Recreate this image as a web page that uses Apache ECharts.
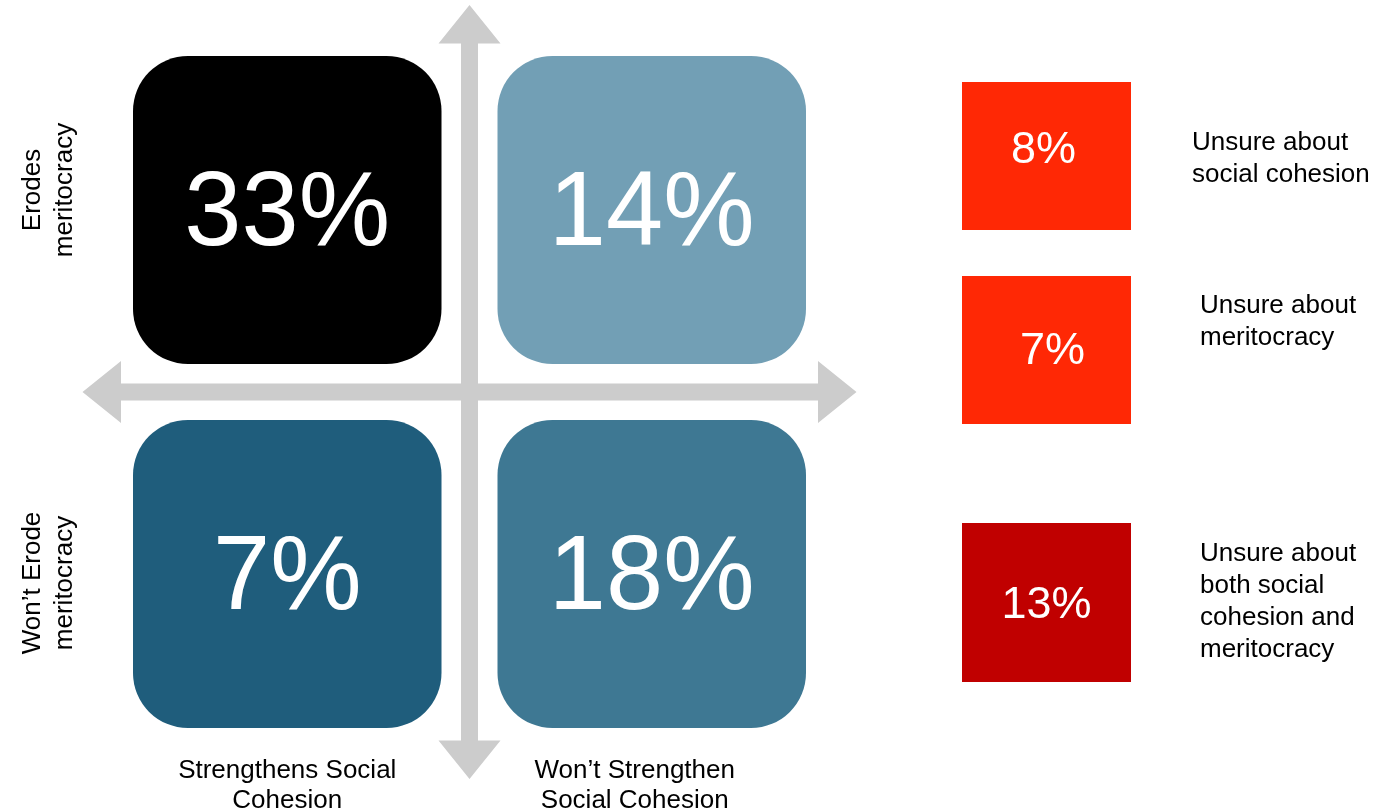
<!DOCTYPE html>
<html>
<head>
<meta charset="utf-8">
<title>Meritocracy vs social cohesion</title>
<script src="https://cdn.jsdelivr.net/npm/echarts@6/dist/echarts.min.js"></script>
<style>
  html, body { margin: 0; padding: 0; background: #fff; }
  #chart { width: 1388px; height: 811px; }
</style>
</head>
<body>
<div id="chart"></div>
<script>
// 数据
const cohesionCats = ['Strengthens Social\nCohesion', 'Won\u2019t Strengthen\nSocial Cohesion'];
const meritCats = ['Erodes\nmeritocracy', 'Won\u2019t Erode\nmeritocracy'];
// [cohesion index, meritocracy index, percent]
const quadValues = [[0, 0, 33], [1, 0, 14], [0, 1, 7], [1, 1, 18]];
const unsureLabels = ['Unsure about\nsocial cohesion', 'Unsure about\nmeritocracy', 'Unsure about\nboth social\ncohesion and\nmeritocracy'];
const unsureValues = [8, 7, 13];

// 样式
const FONT = '"Liberation Sans", Arial, sans-serif';
const quadColors = ['#000000', '#729fb5', '#1f5d7c', '#3e7893'];
const unsureColors = ['#ff2805', '#ff2805', '#c00000'];
const arrowColor = '#cccccc';
// side boxes are not evenly spaced in the original
const sideShift = [0, -6, 41];
const sideHeight = [148, 148, 159];
const sideTextShift = [[-3, -5], [6, 2], [0, 3]];
const sideLabelShift = [[230, 3], [238, -28], [238, -1]];

let myChart = echarts.init(document.getElementById('chart'));

let option = {
    animation: false,
    grid: [
        { left: 105, top: 28, width: 729, height: 728, outerBoundsMode: 'none' },
        { left: 962, top: 82, width: 169, height: 600, outerBoundsMode: 'none' }
    ],
    xAxis: [
        {
            type: 'category',
            gridIndex: 0,
            data: [
                cohesionCats[0],
                { value: cohesionCats[1], textStyle: { padding: [0, 34, 0, 0] } }
            ],
            axisLine: { show: false },
            axisTick: { show: false },
            splitLine: { show: false },
            axisLabel: {
                margin: 0,
                color: '#000',
                fontSize: 26,
                lineHeight: 30,
                fontFamily: FONT
            }
        },
        {
            type: 'value',
            gridIndex: 1,
            min: 0,
            max: 1,
            show: false
        }
    ],
    yAxis: [
        {
            type: 'category',
            gridIndex: 0,
            inverse: true,
            data: [
                { value: meritCats[0], textStyle: { padding: [0, 0, 0, 40] } },
                { value: meritCats[1], textStyle: { padding: [0, 18, 0, 0] } }
            ],
            axisLine: { show: false },
            axisTick: { show: false },
            splitLine: { show: false },
            axisLabel: {
                rotate: 90,
                margin: 24,
                color: '#000',
                fontSize: 26,
                lineHeight: 32,
                fontFamily: FONT
            }
        },
        {
            type: 'category',
            gridIndex: 1,
            inverse: true,
            data: unsureLabels,
            show: false
        }
    ],
    series: [
        {
            // 十字箭头
            type: 'custom',
            xAxisIndex: 0,
            yAxisIndex: 0,
            silent: true,
            data: [[0, 0]],
            renderItem: function (params, api) {
                const a = api.coord([0, 0]);
                const b = api.coord([1, 1]);
                const cx = (a[0] + b[0]) / 2;
                const cy = (a[1] + b[1]) / 2;
                const L = 387, h = 38.5, w = 31, s = 8.5;
                const vert = [
                    [cx - s, cy - L + h], [cx - w, cy - L + h], [cx, cy - L], [cx + w, cy - L + h], [cx + s, cy - L + h],
                    [cx + s, cy + L - h], [cx + w, cy + L - h], [cx, cy + L], [cx - w, cy + L - h], [cx - s, cy + L - h]
                ];
                const horz = [
                    [cx - L + h, cy - s], [cx - L + h, cy - w], [cx - L, cy], [cx - L + h, cy + w], [cx - L + h, cy + s],
                    [cx + L - h, cy + s], [cx + L - h, cy + w], [cx + L, cy], [cx + L - h, cy - w], [cx + L - h, cy - s]
                ];
                return {
                    type: 'group',
                    children: [
                        { type: 'polygon', shape: { points: horz }, style: { fill: arrowColor } },
                        { type: 'polygon', shape: { points: vert }, style: { fill: arrowColor } }
                    ]
                };
            }
        },
        {
            // 四象限
            type: 'custom',
            xAxisIndex: 0,
            yAxisIndex: 0,
            data: quadValues,
            renderItem: function (params, api) {
                const c = api.coord([api.value(0), api.value(1)]);
                const size = api.size([1, 1]);
                const tw = size[0] - 56, th = size[1] - 56;
                return {
                    type: 'group',
                    children: [
                        {
                            type: 'rect',
                            shape: { x: c[0] - tw / 2, y: c[1] - th / 2, width: tw, height: th, r: 55 },
                            style: { fill: quadColors[params.dataIndex] }
                        },
                        {
                            type: 'text',
                            x: c[0],
                            y: c[1] + 6,
                            scaleX: 0.97,
                            style: {
                                x: 0,
                                y: 0,
                                text: api.value(2) + '%',
                                fill: '#fff',
                                fontSize: 106,
                                fontFamily: FONT,
                                align: 'center',
                                verticalAlign: 'middle'
                            }
                        }
                    ]
                };
            }
        },
        {
            // 不确定
            type: 'custom',
            xAxisIndex: 1,
            yAxisIndex: 1,
            data: unsureValues.map(function (v, i) { return [0, i, v]; }),
            renderItem: function (params, api) {
                const i = params.dataIndex;
                const c = api.coord([0, i]);
                const size = api.size([1, 1]);
                const top = c[1] - size[1] / 2 + sideShift[i];
                const bh = sideHeight[i];
                const mid = top + bh / 2;
                return {
                    type: 'group',
                    children: [
                        {
                            type: 'rect',
                            shape: { x: c[0], y: top, width: size[0], height: bh },
                            style: { fill: unsureColors[i] }
                        },
                        {
                            type: 'text',
                            style: {
                                x: c[0] + size[0] / 2 + sideTextShift[i][0],
                                y: mid + sideTextShift[i][1],
                                text: api.value(2) + '%',
                                fill: '#fff',
                                fontSize: 45,
                                fontFamily: FONT,
                                align: 'center',
                                verticalAlign: 'middle'
                            }
                        },
                        {
                            type: 'text',
                            style: {
                                x: c[0] + sideLabelShift[i][0],
                                y: mid + sideLabelShift[i][1],
                                text: unsureLabels[i],
                                fill: '#000',
                                fontSize: 26,
                                lineHeight: 32,
                                fontFamily: FONT,
                                align: 'left',
                                verticalAlign: 'middle'
                            }
                        }
                    ]
                };
            }
        }
    ]
};

myChart.setOption(option);
window.addEventListener('resize', function () {
    myChart.resize();
});
</script>
</body>
</html>
